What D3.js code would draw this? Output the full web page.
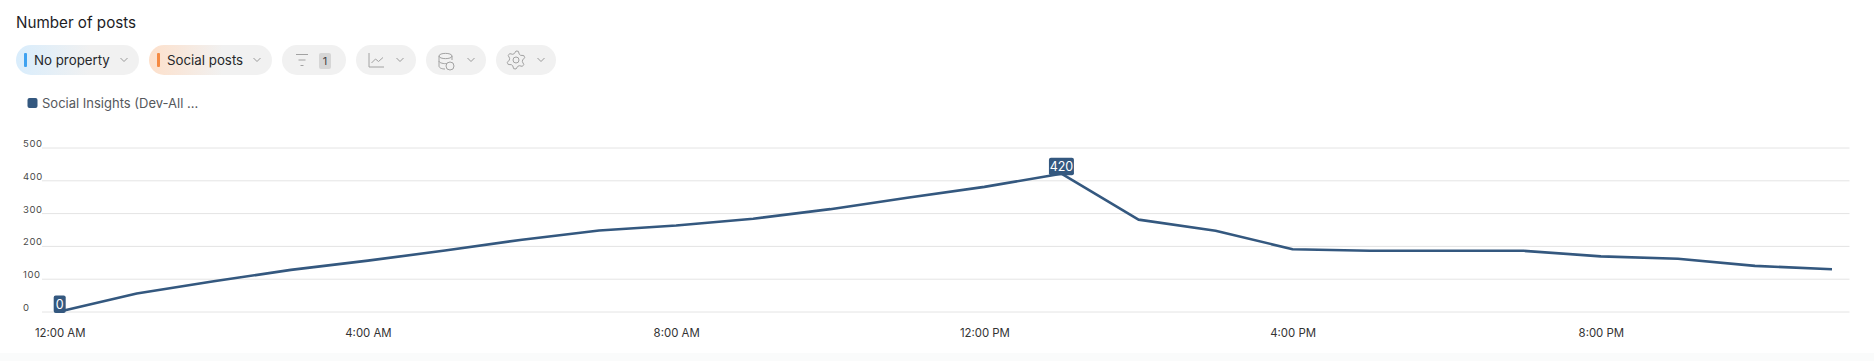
<!DOCTYPE html>
<html>
<head>
<meta charset="utf-8">
<script src="https://cdn.jsdelivr.net/npm/d3@7"></script>
<style>
  html, body { margin: 0; padding: 0; background: #fff; overflow: hidden; }
  svg { display: block; font-family: Inter, "Noto Sans", sans-serif; }
</style>
</head>
<body>
<script>
! function () {
  const hours = d3.range(0, 24)
  const posts = [0, 55, 92, 127, 155, 186, 219, 247, 262, 283, 312, 347, 380, 420, 280, 246, 190, 185, 185, 185, 168, 161, 139, 129]
  const yTicks = [0, 100, 200, 300, 400, 500]
  const xTicks = [0, 4, 8, 12, 16, 20]
  const xTickLabels = ['12:00 AM', '4:00 AM', '8:00 AM', '12:00 PM', '4:00 PM', '8:00 PM']
  const labelledHours = [0, 13]
  const gearRadii = [9, 9, 6.6, 6.6, 9, 9, 6.6, 6.6, 9, 9, 6.6, 6.6, 9, 9, 6.6, 6.6, 9, 9, 6.6, 6.6, 9, 9, 6.6, 6.6]
  const seriesName = 'Social Insights (Dev-All ...'
  const lineColor = '#34587f'

  let svg = d3.select('body').append('svg').attr('width', 1874).attr('height', 361)

  // page background, the bottom strip is very slightly tinted
  svg.append('rect').attr('width', 1874).attr('height', 361).attr('fill', '#fff')
  svg.append('rect').attr('y', 353).attr('width', 1874).attr('height', 8).attr('fill', '#fafbfb')

  svg.append('text').attr('x', 16).attr('y', 28)
    .style('font-size', '15.2px').style('fill', '#1d1d1f').text('Number of posts')

  /**
   * toolbar
   */
  let defs = svg.append('defs')
  let grad = (id, c) => {
    let g = defs.append('linearGradient').attr('id', id)
    g.append('stop').attr('offset', '0').attr('stop-color', c)
    g.append('stop').attr('offset', '0.6').attr('stop-color', '#f1f1f1')
  }
  grad('blue', '#d9edfc')
  grad('orange', '#fde0cb')

  let pill = (x, w, fill) => svg.append('rect').attr('x', x).attr('y', 45).attr('width', w).attr('height', 30)
    .attr('rx', 15).attr('fill', fill)
  let chevron = (x) => svg.append('path').attr('d', `M${x - 3.5} 58l3.5 3.5l3.5-3.5`)
    .attr('fill', 'none').attr('stroke', '#9a9a9a').attr('stroke-width', 1)
  let icon = (d, x) => svg.append('path').attr('d', d).attr('transform', `translate(${x}, 0)`)
    .attr('fill', 'none').attr('stroke', '#a2a2a2').attr('stroke-width', 1)

  pill(16, 123, 'url(#blue)')
  svg.append('rect').attr('x', 24).attr('y', 53).attr('width', 3).attr('height', 14).attr('rx', 1).attr('fill', '#3fa2f0')
  svg.append('text').attr('x', 34).attr('y', 65).style('font-size', '13.3px').style('fill', '#26282b').text('No property')
  chevron(124)

  pill(149, 123, 'url(#orange)')
  svg.append('rect').attr('x', 157).attr('y', 53).attr('width', 3).attr('height', 14).attr('rx', 1).attr('fill', '#f58a42')
  svg.append('text').attr('x', 167).attr('y', 65).style('font-size', '13.3px').style('fill', '#26282b').text('Social posts')
  chevron(257)

  // filter
  pill(282, 64, '#f1f1f1')
  icon('M0 54.5h12M2.5 60h7M4.5 65.5h3', 296)
  svg.append('rect').attr('x', 319).attr('y', 53).attr('width', 12).attr('height', 16).attr('rx', 2).attr('fill', '#d6d6d6')
  svg.append('text').attr('x', 325).attr('y', 65).attr('text-anchor', 'middle')
    .style('font-size', '11px').style('fill', '#444').text('1')

  // chart type
  pill(356, 60, '#f1f1f1')
  icon('M0 53v14h15M2.5 63l4-4l3 2.5l4.5-4', 369)
  chevron(400)

  // data source
  pill(426, 60, '#f1f1f1')
  icon('M0 56c0-3.5 13-3.5 13 0s-13 3.5-13 0v10c0 2 3 3 6 3M0 61c0 2 5 3 8 2.5M13 56v4', 439)
  svg.append('circle').attr('cx', 450).attr('cy', 66).attr('r', 4)
    .attr('fill', '#f1f1f1').attr('stroke', '#a2a2a2')
  chevron(471)

  // settings
  pill(496, 60, '#f1f1f1')
  svg.append('circle').attr('cx', 516).attr('cy', 60).attr('r', 3)
    .attr('fill', 'none').attr('stroke', '#a2a2a2')
  let gearLine = d3.lineRadial().curve(d3.curveLinearClosed)
    .angle((d, i) => i / gearRadii.length * 2 * Math.PI).radius(d => d)
  svg.append('path').attr('d', gearLine(gearRadii)).attr('transform', 'translate(516, 60)')
    .attr('fill', 'none').attr('stroke', '#a2a2a2').attr('stroke-linejoin', 'round')
  chevron(541)

  /**
   * legend
   */
  svg.append('rect').attr('x', 27.5).attr('y', 98).attr('width', 10).attr('height', 10).attr('rx', 2).attr('fill', lineColor)
  svg.append('text').attr('x', 42).attr('y', 108).style('font-size', '13px').style('fill', '#55585c').text(seriesName)

  /**
   * chart
   */
  let x = d3.scaleLinear().domain([0, 23]).range([59.7, 1832])
  let y = d3.scaleLinear().domain([0, 500]).range([311.5, 147.5])

  let yAxis = d3.axisLeft(y).tickValues(yTicks).tickSize(0).tickPadding(0)
  let gridG = svg.append('g').attr('transform', 'translate(42, 0)').call(yAxis)
  gridG.select('.domain').remove()
  gridG.selectAll('.tick line').attr('x2', 1807.5).attr('stroke', '#e4e4e4').attr('stroke-width', 1)
  gridG.selectAll('.tick text').attr('x', -19).attr('dy', '-0.1em').attr('text-anchor', 'start')
    .style('font-size', '9.5px').style('font-family', 'Inter').style('letter-spacing', '0.6px').style('fill', '#4a4a4a')

  let xAxis = d3.axisBottom(x).tickValues(xTicks).tickSize(0).tickFormat((d, i) => xTickLabels[i])
  let xG = svg.append('g').attr('transform', 'translate(0, 326)').call(xAxis)
  xG.select('.domain').remove()
  xG.selectAll('.tick text').style('font-size', '11.4px').style('font-family', 'Inter').style('fill', '#333')

  let lineGen = d3.line().x(d => x(d)).y(d => y(posts[d]))
  svg.append('path').attr('d', lineGen(hours))
    .attr('fill', 'none').attr('stroke', lineColor).attr('stroke-width', 2.6).attr('stroke-linejoin', 'round')

  let badge = svg.selectAll('g.badge').data(labelledHours).join('g').attr('class', 'badge')
    .attr('transform', d => `translate(${x(d)}, ${y(posts[d])})`)
  badge.append('rect')
    .attr('x', d => d === 0 ? -6 : -12.5).attr('y', -16)
    .attr('width', d => d === 0 ? 12 : 25).attr('height', 17.5).attr('rx', 2).attr('fill', lineColor)
  badge.append('text').attr('y', -3).attr('text-anchor', 'middle')
    .style('font-size', '12.5px').style('fill', '#fff').text(d => posts[d])
}()
</script>
</body>
</html>
